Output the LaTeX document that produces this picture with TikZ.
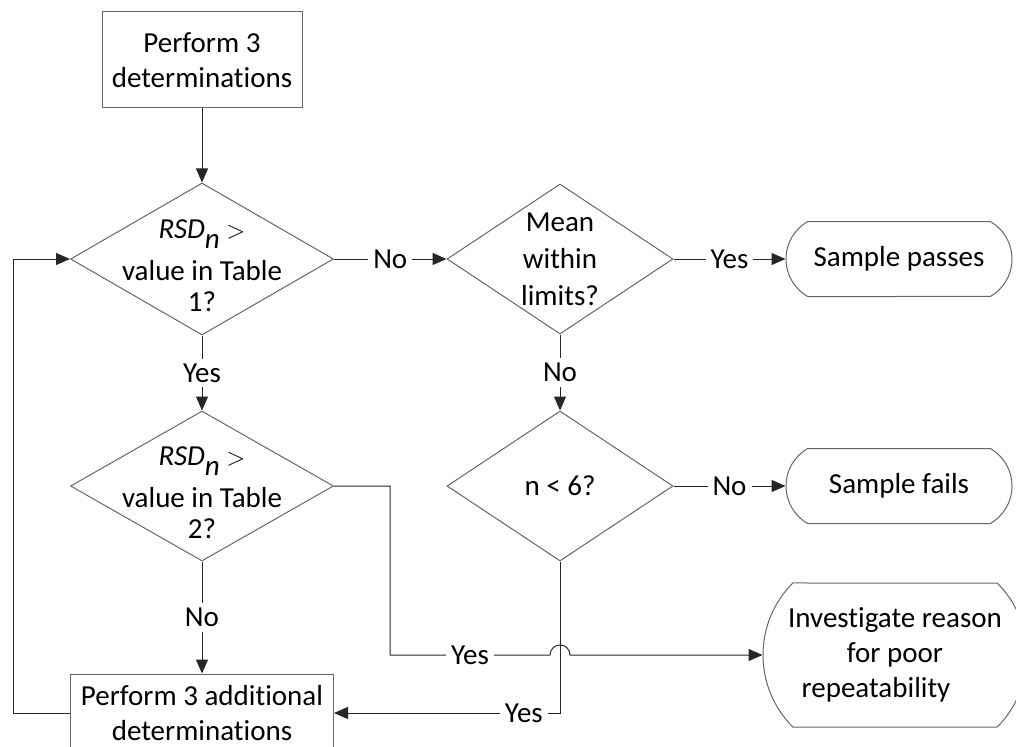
\documentclass[tikz,border=0pt]{standalone}
\usepackage{fontspec}
\setmainfont{Carlito}[Ligatures={NoCommon}]
\usetikzlibrary{shapes.geometric,shapes.misc,arrows.meta,calc}
\tikzset{
  every node/.style={font=\fontsize{29}{35}\selectfont},
  process/.style={draw=black!60, line width=1pt, rectangle, align=center, inner sep=0pt},
  decision/.style={draw=black!60, line width=1pt, diamond, inner sep=0pt},
  terminal/.style={draw=black!60, line width=1pt, rounded rectangle, rounded rectangle arc length=120, align=center, inner sep=0pt},
  flow/.style={draw=black!85, line width=1pt, -{Triangle[length=14pt,width=12pt]}},
  answer/.style={fill=white, inner sep=5pt}
}
\newcommand{\rsd}{\textit{RSD\raisebox{-0.35em}{n}} $>$}
\begin{document}
\begin{tikzpicture}[x=1pt,y=-1pt]
        \useasboundingbox (0,0) rectangle (1016,746);
        \node[process, minimum width=200pt, minimum height=96pt] (start) at (202,60) {Perform 3\\determinations};
        \node[decision, minimum width=263pt, minimum height=152pt, label={[align=center,yshift=-7pt]center:\rsd\\[7pt]value in Table\\[-4pt]1?}] (d1) at (202,259) {};
        \node[decision, minimum width=226pt, minimum height=150pt, label={[align=center]center:Mean\\[2pt]within\\[2pt]limits?}] (d2) at (560,259) {};
        \node[decision, minimum width=263pt, minimum height=150pt, label={[align=center,yshift=-7pt]center:\rsd\\[7pt]value in Table\\[-4pt]2?}] (d3) at (202,486) {};
        \node[decision, minimum width=226pt, minimum height=150pt, label=center:{n < 6?}] (d4) at (560,486) {};
        \node[terminal, minimum width=226pt, minimum height=75pt] (pass) at (899,259) {Sample passes};
        \node[terminal, minimum width=226pt, minimum height=75pt] (fail) at (899,486) {Sample fails};
        \node[terminal, rounded rectangle arc length=90, minimum width=264pt, minimum height=144pt] (inv) at (895,655) {Investigate reason\\for poor\hspace*{50pt}\\repeatability\hspace*{38pt}};
        \node[process, minimum width=263pt, minimum height=78pt] (more) at (202,713) {Perform 3 additional\\determinations};
        \coordinate (jog) at (390,655);
        \coordinate (back) at (13,0);
        \draw[flow] (start) -- (d1);
        \draw[flow] (d1.east) -- node[answer]{No} (d2.west);
        \draw[flow] (d2.east) -- node[answer]{Yes} (pass.west);
        \draw[flow] (d1.south) -- node[answer]{Yes} (d3.north);
        \draw[flow] (d2.south) -- node[answer]{No} (d4.north);
        \draw[flow] (d4.east) -- node[answer]{No} (fail.west);
        \draw[flow] (d3.south) -- node[answer]{No} (more.north);
        \draw[flow] (d4.south) |- node[answer,pos=0.58]{Yes} (more.east);
        \draw[flow] (d3.east) -| (jog) -- node[answer]{Yes} ($(d4.south |- jog)+(-10,0)$) arc[start angle=180,end angle=0,radius=10pt] -- (inv.west);
        \draw[flow] (more.west) -- (more.west -| back) |- (d1.west);
    \end{tikzpicture}
\end{document}
